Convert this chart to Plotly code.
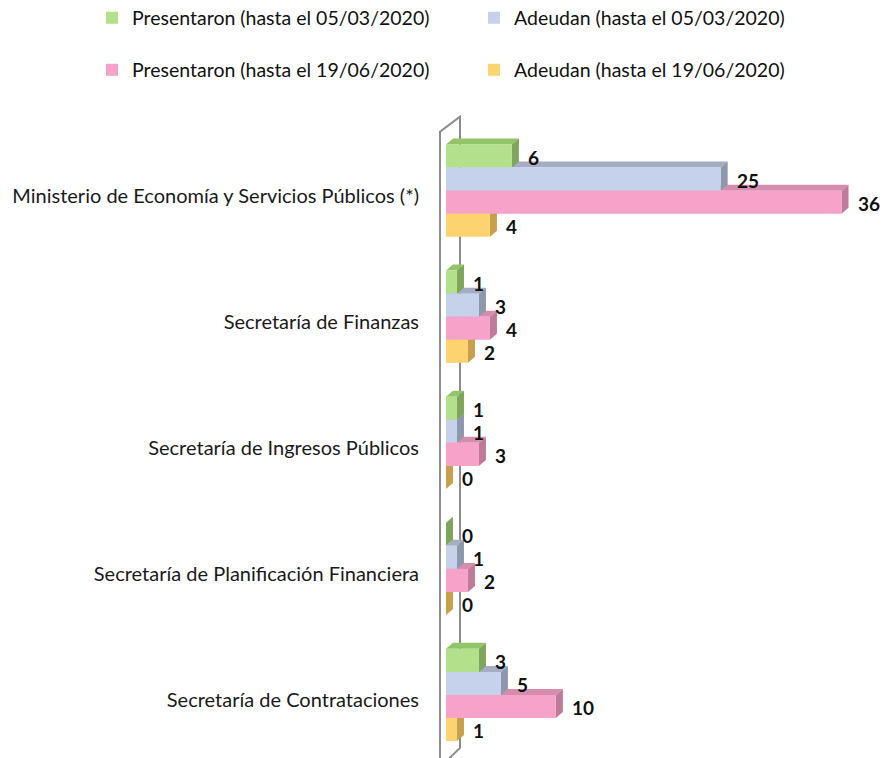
import plotly.graph_objects as go

categories = [
    "Ministerio de Economía y Servicios Públicos (*)",
    "Secretaría de Finanzas",
    "Secretaría de Ingresos Públicos",
    "Secretaría de Planificación Financiera",
    "Secretaría de Contrataciones",
]
series_names = [
    "Presentaron (hasta el 05/03/2020)",
    "Adeudan (hasta el 05/03/2020)",
    "Presentaron (hasta el 19/06/2020)",
    "Adeudan (hasta el 19/06/2020)",
]
presentaron_0503 = [6, 1, 1, 0, 3]
adeudan_0503 = [25, 3, 1, 1, 5]
presentaron_1906 = [36, 4, 3, 2, 10]
adeudan_1906 = [4, 2, 0, 0, 1]

series_values = [presentaron_0503, adeudan_0503, presentaron_1906, adeudan_1906]
front_colors = ["#b3e08a", "#c6d1eb", "#f7a2c9", "#fdd36f"]
side_colors = ["#7ea65a", "#8e98ad", "#c07a9a", "#c8a04c"]
top_colors = ["#93c46a", "#a3adc3", "#d58dae", "#e2b85a"]

W, H = 883, 758
ml, mr, mt, mb = 435, 14, 115, 0
xr = [-1, 38.5]
yr = [4.5, -0.6]
pxx = (W - ml - mr) / (xr[1] - xr[0])
pxy = (H - mt - mb) / (yr[0] - yr[1])
dx = 7 / pxx
dy = 6 / pxy
bw = 0.183

pos = list(range(len(categories)))
font = "Lato, 'Liberation Sans', sans-serif"

# legend placement (container coords): column x of legend box, row y centre
leg_x = [92, 474, 92, 474]
leg_y = [18, 18, 70, 70]
leg_ids = ["legend", "legend2", "legend3", "legend4"]

fig = go.Figure()
shapes = []
# 3D wall outline
shapes.append(dict(
    type="path", xref="x", yref="y", layer="below",
    path=f"M {-6/pxx},{4.6} L {-6/pxx},{-0.468} L {14/pxx},{-0.587} L {14/pxx},{4.42} L {1/pxx},{4.52}",
    line=dict(color="#8c8c8c", width=2), fillcolor="rgba(0,0,0,0)",
))

annotations = []
for i, (name, vals) in enumerate(zip(series_names, series_values)):
    off = -2 * bw + i * bw
    fig.add_trace(go.Bar(
        y=pos, x=vals, orientation="h", name=name,
        width=bw, offset=off,
        marker=dict(color=front_colors[i], line=dict(width=0)),
        legend=leg_ids[i],
        hoverinfo="x+name",
    ))
    for p, v in zip(pos, vals):
        yt = p + off
        yb = yt + bw
        annotations.append(dict(
            x=v, y=(yt + yb) / 2, xref="x", yref="y", text=f"<b>{v}</b>",
            showarrow=False, xanchor="left", xshift=14, yshift=-1,
            font=dict(family=font, size=19, color="#111111"),
        ))

# faces, drawn from the bottom series up
for i in reversed(range(4)):
    off = -2 * bw + i * bw
    for p, v in zip(pos, series_values[i]):
        yt = p + off
        yb = yt + bw
        shapes.append(dict(
            type="path", xref="x", yref="y", layer="below",
            path=f"M 0,{yt} L {v},{yt} L {v+dx},{yt-dy} L {dx},{yt-dy} Z",
            fillcolor=top_colors[i], line=dict(width=0),
        ))
        shapes.append(dict(
            type="path", xref="x", yref="y", layer="below",
            path=f"M {v},{yt} L {v+dx},{yt-dy} L {v+dx},{yb-dy} L {v},{yb} Z",
            fillcolor=side_colors[i], line=dict(width=0),
        ))

legends = {}
for lid, lx, ly in zip(leg_ids, leg_x, leg_y):
    legends[lid] = dict(
        orientation="h", xref="container", yref="container",
        x=lx / W, y=1 - ly / H, xanchor="left", yanchor="middle",
        font=dict(family=font, size=19.5, color="#111111"),
        bgcolor="rgba(0,0,0,0)", itemclick=False, itemdoubleclick=False,
        itemwidth=30,
    )

fig.update_layout(
    width=W, height=H,
    margin=dict(l=ml, r=mr, t=mt, b=mb, pad=0, autoexpand=False),
    paper_bgcolor="white", plot_bgcolor="white",
    barmode="overlay",
    showlegend=True,
    xaxis=dict(range=xr, visible=False, fixedrange=True),
    yaxis=dict(
        range=yr, tickmode="array", tickvals=pos, ticktext=categories,
        showgrid=False, zeroline=False, showline=False, ticks="",
        ticklabelstandoff=15, ticklabelshift=-5,
        tickfont=dict(family=font, size=20, color="#1a1a1a"),
        fixedrange=True,
    ),
    shapes=shapes,
    annotations=annotations,
    font=dict(family=font),
    **legends,
)

fig.write_html(
    "out.html",
    config={"displayModeBar": False},
    post_script="document.body.style.margin='0';document.body.style.overflow='hidden';",
)
